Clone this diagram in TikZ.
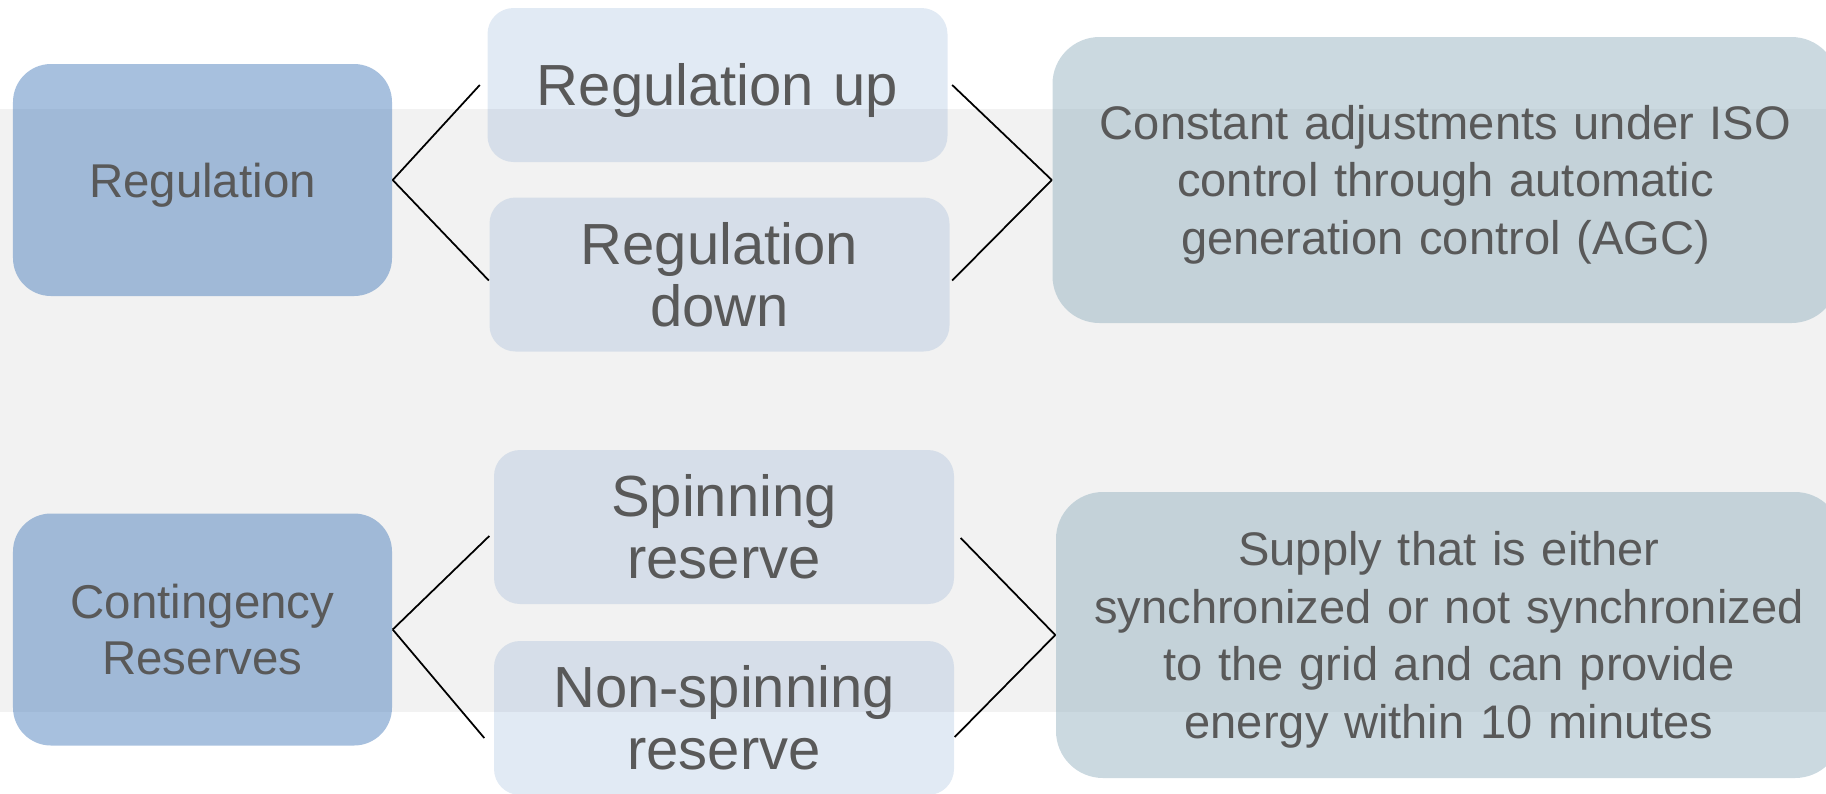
\documentclass[tikz,border=0pt]{standalone}
\usepackage{fontspec}
\setmainfont{Liberation Sans}
\usepackage{xcolor}
\usepackage{tikz}
\usetikzlibrary{shapes,arrows,positioning}
\definecolor{band}{RGB}{242, 242, 242}
\definecolor{accent}{RGB}{79, 129, 189}
\definecolor{slate}{RGB}{151, 180, 194}
\definecolor{txt}{RGB}{89, 89, 89}
\tikzstyle{sidebox} = [rectangle, fill=accent, fill opacity=0.5, text opacity=1, text=txt, rounded corners=0.38cm, minimum width=3.79cm, minimum height=2.32cm, inner sep=0pt, text width=3.5cm, align=center, text height=9.7pt, text depth=0pt, font=\fontsize{13.5pt}{15.9pt}\selectfont]
\tikzstyle{midbox} = [rectangle, fill=accent, fill opacity=0.17, text opacity=1, text=txt, rounded corners=0.26cm, minimum width=4.6cm, minimum height=1.54cm, inner sep=0pt, text width=4.3cm, align=center, text height=11.8pt, text depth=0pt, font=\fontsize{16.5pt}{17.5pt}\selectfont]
\tikzstyle{infobox} = [rectangle, fill=slate, fill opacity=0.5, text opacity=1, text=txt, rounded corners=0.47cm, minimum width=7.86cm, minimum height=2.86cm, inner sep=0pt, text width=7.5cm, align=center, text height=9.6pt, font=\fontsize{13.4pt}{16.4pt}\selectfont]
\tikzstyle{line} = [draw, line width=0.5pt]

\begin{document}
\begin{tikzpicture}[node distance=5.15cm, auto]
    \useasboundingbox (0,0) rectangle (18.26,-7.93);
    \fill [band] (0,-1.09) rectangle (18.26,-7.12);

    \node [sidebox] (reg) at (2.025,-1.80) {Regulation};
    \node [midbox, right of=reg, yshift=0.95cm] (regup) {Regulation up};
    \node [midbox, right of=reg, xshift=0.02cm, yshift=-0.945cm, text depth=17.5pt] (regdown) {Regulation\\down};
    \node [infobox, right of=reg, node distance=12.43cm, text depth=32.8pt] (regdesc) {Constant adjustments under ISO\\control through automatic\\generation control (AGC)};

    \node [sidebox, text depth=15.9pt] (cont) at (2.025,-6.295) {Contingency\\Reserves};
    \node [midbox, right of=cont, xshift=0.065cm, yshift=1.025cm, text depth=17.5pt] (spin) {Spinning\\reserve};
    \node [midbox, right of=cont, xshift=0.065cm, yshift=-0.885cm, text depth=17.5pt] (nonspin) {Non-spinning\\reserve};
    \node [infobox, right of=cont, node distance=12.465cm, yshift=-0.055cm, text depth=49.2pt] (contdesc) {Supply that is either\\synchronized or not synchronized\\to the grid and can provide\\energy within 10 minutes};

    \path [line] (reg.east) -- ([xshift=-0.07cm]regup.west);
    \path [line] (reg.east) -- ([yshift=-0.06cm]regdown.west);
    \path [line] ([xshift=0.04cm]regup.east) -- (regdesc.west);
    \path [line] ([xshift=0.02cm,yshift=-0.06cm]regdown.east) -- (regdesc.west);
    \path [line] (cont.east) -- ([xshift=-0.04cm,yshift=-0.09cm]spin.west);
    \path [line] (cont.east) -- ([xshift=-0.09cm,yshift=-0.20cm]nonspin.west);
    \path [line] ([xshift=0.06cm,yshift=-0.11cm]spin.east) -- (contdesc.west);
    \path [line] ([yshift=-0.19cm]nonspin.east) -- (contdesc.west);
\end{tikzpicture}
\end{document}
